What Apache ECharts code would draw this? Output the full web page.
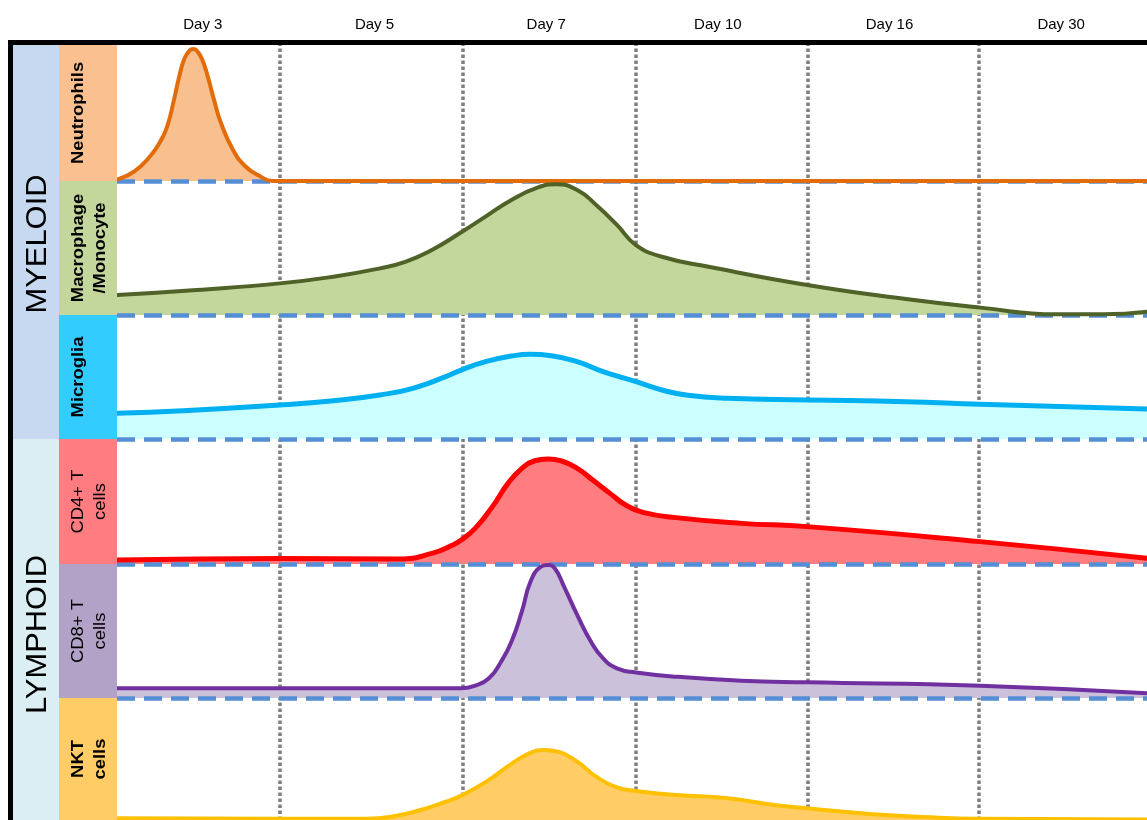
<!DOCTYPE html>
<html>
<head>
<meta charset="utf-8">
<script src="https://cdn.jsdelivr.net/npm/echarts@6/dist/echarts.min.js"></script>
<style>
html,body{margin:0;padding:0;background:#fff;}
#chart{width:1147px;height:820px;}
</style>
</head>
<body>
<div id="chart"></div>
<script>
// ---------- DATA ----------
const days = ['Day 3', 'Day 5', 'Day 7', 'Day 10', 'Day 16', 'Day 30'];
const lineages = ['MYELOID', 'LYMPHOID'];
const cellTypes = ['Neutrophils', 'Macrophage\n/Monocyte', 'Microglia', 'CD4+ T\ncells', 'CD8+ T\ncells', 'NKT\ncells'];
// x in "day-column" units (0 = start of Day 3 column), y = relative abundance (0..1 of row height)
const dayBoundaries = [0.94, 2, 3, 3.99, 4.98];

const neutrophils = [[0,0.01],[0.1,0.07],[0.19,0.18],[0.25,0.29],[0.29,0.4],[0.33,0.6],[0.36,0.77],[0.39,0.9],[0.42,0.96],[0.44,0.97],[0.46,0.96],[0.49,0.9],[0.52,0.79],[0.56,0.6],[0.6,0.43],[0.67,0.23],[0.74,0.11],[0.82,0.04],[0.9,0],[1.2,0],[2,0],[3,0],[4,0],[5,0],[5.954,0]];
const macrophage = [[0,0.149],[0.46,0.187],[0.94,0.236],[1.25,0.286],[1.52,0.348],[1.67,0.398],[1.82,0.485],[1.99,0.617],[2.13,0.734],[2.28,0.858],[2.43,0.95],[2.54,0.975],[2.66,0.933],[2.77,0.821],[2.89,0.672],[3.0,0.522],[3.15,0.435],[3.42,0.36],[3.99,0.224],[4.56,0.119],[4.99,0.055],[5.43,0.005],[5.7,0.005],[5.954,0.025]];
const microglia = [[0,0.207],[0.38,0.228],[0.94,0.274],[1.25,0.309],[1.52,0.355],[1.71,0.409],[1.9,0.503],[1.99,0.556],[2.13,0.624],[2.28,0.669],[2.39,0.683],[2.51,0.672],[2.66,0.624],[2.81,0.543],[3.0,0.462],[3.15,0.395],[3.3,0.352],[3.53,0.328],[3.99,0.315],[4.56,0.301],[4.99,0.28],[5.954,0.242]];
const cd4 = [[0,0.032],[0.94,0.045],[1.63,0.04],[1.82,0.085],[1.94,0.152],[1.99,0.192],[2.07,0.285],[2.17,0.459],[2.26,0.645],[2.34,0.765],[2.41,0.824],[2.49,0.84],[2.57,0.824],[2.66,0.765],[2.75,0.672],[2.85,0.565],[2.94,0.472],[3.04,0.413],[3.23,0.371],[3.61,0.325],[3.99,0.299],[4.99,0.179],[5.954,0.046]];
const cd8 = [[0,0.072],[1,0.072],[1.8,0.072],[1.99,0.072],[2.07,0.092],[2.15,0.147],[2.22,0.271],[2.28,0.42],[2.34,0.644],[2.39,0.867],[2.45,0.98],[2.49,0.993],[2.53,0.968],[2.58,0.843],[2.66,0.62],[2.74,0.42],[2.81,0.296],[2.89,0.221],[3.0,0.191],[3.23,0.159],[3.61,0.129],[3.99,0.117],[4.99,0.092],[5.954,0.035]];
const nkt = [[0,0.014],[0.94,0.011],[1.44,0.011],[1.6,0.03],[1.75,0.08],[1.9,0.15],[1.99,0.2],[2.13,0.31],[2.28,0.46],[2.39,0.55],[2.47,0.574],[2.55,0.56],[2.66,0.478],[2.77,0.355],[2.89,0.268],[3.0,0.238],[3.23,0.205],[3.53,0.178],[3.8,0.123],[3.99,0.096],[4.37,0.047],[4.75,0.019],[4.99,0.011],[5.954,0.005]];

const rowSeries = [neutrophils, macrophage, microglia, cd4, cd8, nkt];

// ---------- STYLE / LAYOUT ----------
const FONT = '"Liberation Sans", Arial, sans-serif';
const rowEdges = [45, 181, 315, 439, 564, 698, 820];
const plotLeft = 117;
const colWidth = 173;
const xMax = (1147 - plotLeft) / colWidth;
const lineColors = ['#e36c0a', '#4f6228', '#00b0f0', '#ff0000', '#7030a0', '#ffc000'];
const fillColors = ['#f9c08f', '#c3d69b', '#ccffff', '#ff7c80', '#ccc1da', '#ffcc66'];
const labelBg = ['#fac090', '#c3d69b', '#33ccff', '#ff7c80', '#b3a2c7', '#ffcc66'];
const labelBold = [true, true, true, false, false, true];
const lineWidths = [4, 4, 5, 5, 4, 4];
const lineageBg = ['#c6d9f1', '#dbeef4'];
const lineageRows = [[0, 3], [3, 6]];
const lineageShift = [2, 5];

const grid = [], xAxis = [], yAxis = [], series = [];
for (let i = 0; i < 6; i++) {
  grid.push({left: plotLeft, right: 0, top: rowEdges[i], height: rowEdges[i + 1] - rowEdges[i]});
  xAxis.push({type: 'value', gridIndex: i, min: 0, max: xMax, show: false});
  yAxis.push({type: 'value', gridIndex: i, min: 0, max: 1, show: false});
  series.push({
    type: 'line', xAxisIndex: i, yAxisIndex: i, data: rowSeries[i], smooth: 0.5,
    symbol: 'none', clip: false, silent: true, z: 2,
    lineStyle: {width: 0, opacity: 0},
    areaStyle: {color: fillColors[i], opacity: 1}
  });
  const s = {
    type: 'line', xAxisIndex: i, yAxisIndex: i, data: rowSeries[i], smooth: 0.5,
    symbol: 'none', clip: false, silent: true, z: 4,
    lineStyle: {width: lineWidths[i], color: lineColors[i], cap: 'round', join: 'round'}
  };
  if (i < 5) {
    s.markLine = {
      z: 3, silent: true, symbol: 'none', label: {show: false},
      lineStyle: {color: '#558ed5', type: [18, 9], width: 4.5},
      data: [{yAxis: 0}]
    };
  }
  series.push(s);
}
// day-label axis (grid 6)
grid.push({left: plotLeft, top: rowEdges[0], width: colWidth * 6, height: rowEdges[6] - rowEdges[0]});
xAxis.push({
  type: 'category', gridIndex: 6, data: days, position: 'top', boundaryGap: true,
  axisLine: {show: false}, axisTick: {show: false}, splitLine: {show: false},
  axisLabel: {fontSize: 15, color: '#000', fontFamily: FONT, margin: 13}
});
yAxis.push({type: 'value', gridIndex: 6, show: false, min: 0, max: 1});
// dotted day separators (grid 7)
grid.push({left: plotLeft, right: 0, top: rowEdges[0], bottom: 0});
xAxis.push({type: 'value', gridIndex: 7, min: 0, max: xMax, show: false});
yAxis.push({type: 'value', gridIndex: 7, min: 0, max: 1, show: false});
series.push({
  type: 'line', xAxisIndex: 7, yAxisIndex: 7, data: [], silent: true, z: 1,
  markLine: {
    z: 1, silent: true, symbol: 'none', label: {show: false},
    lineStyle: {color: '#7f7f7f', type: [3.5, 2.5], width: 3.5},
    data: dayBoundaries.map(v => ({xAxis: v}))
  }
});

// left-side panels
const graphic = [];
graphic.push({type: 'rect', shape: {x: 8, y: 40, width: 1139, height: 5}, style: {fill: '#000'}, z: 10});
graphic.push({type: 'rect', shape: {x: 8, y: 40, width: 5, height: 780}, style: {fill: '#000'}, z: 10});
lineages.forEach((name, k) => {
  const y0 = rowEdges[lineageRows[k][0]], y1 = rowEdges[lineageRows[k][1]];
  graphic.push({type: 'rect', shape: {x: 13, y: y0, width: 46, height: y1 - y0}, style: {fill: lineageBg[k]}, z: 5});
  graphic.push({
    type: 'text', x: 37.5, y: (y0 + y1) / 2 + lineageShift[k], rotation: Math.PI / 2, scaleX: 1.03, z: 6,
    style: {text: name, fontSize: 30, fontFamily: FONT, fill: '#000', align: 'center', verticalAlign: 'middle'}
  });
});
cellTypes.forEach((name, i) => {
  const y0 = rowEdges[i], y1 = rowEdges[i + 1];
  graphic.push({type: 'rect', shape: {x: 59, y: y0, width: 58, height: y1 - y0}, style: {fill: labelBg[i]}, z: 5});
  graphic.push({
    type: 'text', x: 68, y: (y0 + y1) / 2, rotation: Math.PI / 2, scaleX: 1.15, z: 6,
    style: {text: name, fontSize: 16, fontWeight: labelBold[i] ? 'bold' : 'normal', fontFamily: FONT,
      fill: '#000', align: 'center', verticalAlign: 'top', lineHeight: 22}
  });
});

const chart = echarts.init(document.getElementById('chart'), null, {renderer: 'canvas'});
chart.setOption({
  animation: false,
  backgroundColor: '#fff',
  grid, xAxis, yAxis, series, graphic
});
</script>
</body>
</html>
